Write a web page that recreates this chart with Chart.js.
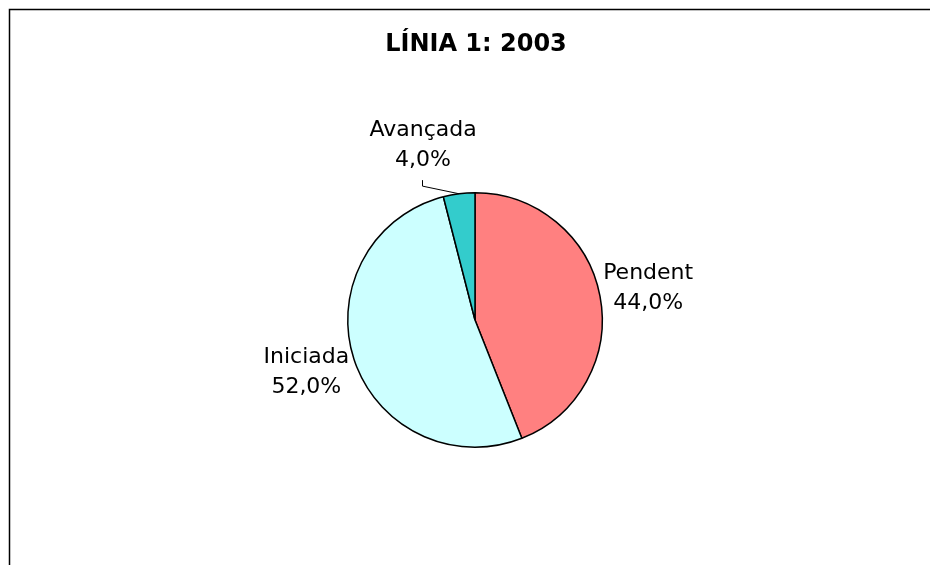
<!DOCTYPE html>
<html>
<head>
<meta charset="utf-8">
<script src="https://cdn.jsdelivr.net/npm/chart.js@4.4.0/dist/chart.umd.min.js"></script>
<style>
  html, body { margin: 0; padding: 0; background: #fff; }
  #wrap { width: 930px; height: 565px; }
</style>
</head>
<body>
<div id="wrap"><canvas id="pie" width="930" height="565"></canvas></div>
<script>
const chartTitle = 'LÍNIA 1: 2003';
const categories = ['Pendent', 'Iniciada', 'Avançada'];
const percentages = [44.0, 52.0, 4.0];
const sliceColors = ['#FF8080', '#CCFFFF', '#33CCCC'];

// marc de l'Excel (només es veuen els costats de dalt i esquerra)
const framePlugin = {
  id: 'frame',
  afterDraw(chart) {
    const ctx = chart.ctx;
    ctx.save();
    ctx.strokeStyle = '#000';
    ctx.lineWidth = 1.5;
    ctx.beginPath();
    ctx.moveTo(9.5, 565);
    ctx.lineTo(9.5, 9.5);
    ctx.lineTo(930, 9.5);
    ctx.stroke();

    ctx.fillStyle = '#000';
    ctx.font = 'bold 24px "DejaVu Sans", Verdana, sans-serif';
    ctx.textAlign = 'center';
    ctx.textBaseline = 'middle';
    ctx.fillText(chartTitle, 476, 45);
    ctx.restore();
  }
};

const labelsPlugin = {
  id: 'sliceLabels',
  afterDatasetsDraw(chart) {
    const ctx = chart.ctx;
    const meta = chart.getDatasetMeta(0);
    const nudges = [[1, 1], [-2, -2], [-30, -1]];
    ctx.save();
    ctx.font = '22px "DejaVu Sans", Verdana, sans-serif';
    ctx.fillStyle = '#000';
    ctx.textAlign = 'center';
    ctx.textBaseline = 'middle';
    meta.data.forEach((arc, i) => {
      const mid = (arc.startAngle + arc.endAngle) / 2;
      const r = arc.outerRadius + 48;
      const x = arc.x + Math.cos(mid) * r + nudges[i][0];
      const y = arc.y + Math.sin(mid) * r + nudges[i][1];
      ctx.fillText(categories[i], x, y - 15);
      ctx.fillText(percentages[i].toFixed(1).replace('.', ',') + '%', x, y + 15);
      if (i === 2) {
        // línia guia
        const ex = arc.x + Math.cos(mid) * arc.outerRadius;
        const ey = arc.y + Math.sin(mid) * arc.outerRadius;
        ctx.strokeStyle = '#000';
        ctx.lineWidth = 1;
        ctx.beginPath();
        ctx.moveTo(ex, ey);
        ctx.lineTo(Math.round(x) - 0.5, y + 41);
        ctx.lineTo(Math.round(x) - 0.5, y + 35);
        ctx.stroke();
      }
    });
    ctx.restore();
  }
};

new Chart(document.getElementById('pie').getContext('2d'), {
  type: 'pie',
  data: {
    labels: categories,
    datasets: [{
      data: percentages,
      backgroundColor: sliceColors,
      borderColor: '#000',
      borderWidth: 1.5,
      hoverOffset: 0
    }]
  },
  options: {
    responsive: false,
    animation: false,
    layout: { padding: { top: 192, bottom: 117, left: 347, right: 327 } },
    plugins: {
      legend: { display: false },
      tooltip: { enabled: false }
    }
  },
  plugins: [framePlugin, labelsPlugin]
});
</script>
</body>
</html>
